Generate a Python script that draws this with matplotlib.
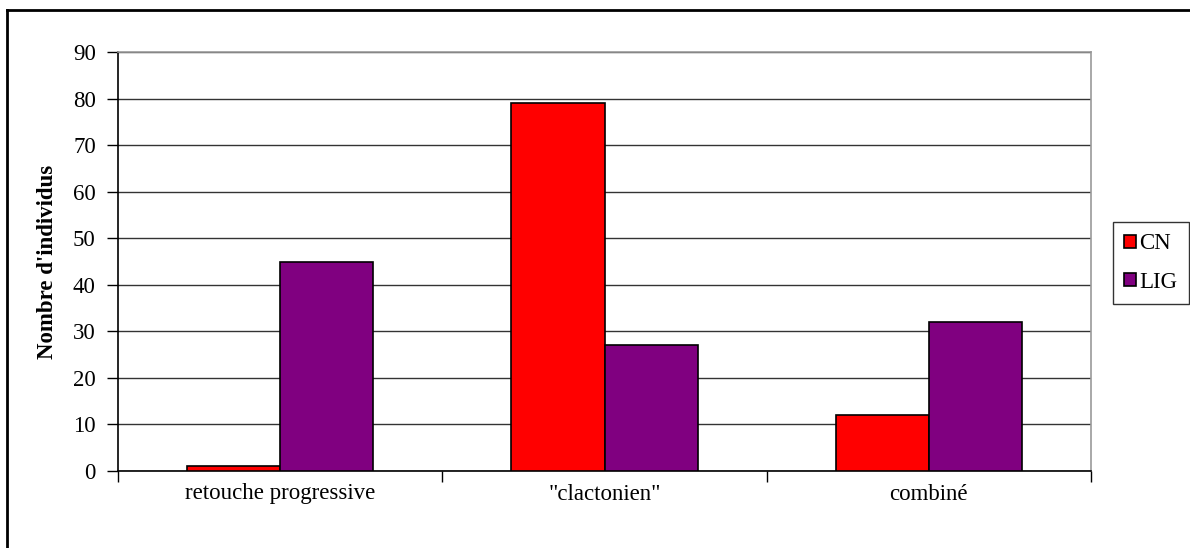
import matplotlib.pyplot as plt
import matplotlib.lines as mlines
import numpy as np

categories = ['retouche progressive', '"clactonien"', 'combiné']
cn_values = [1, 79, 12]
lig_values = [45, 27, 32]
series_names = ['CN', 'LIG']
y_ticks = [0, 10, 20, 30, 40, 50, 60, 70, 80, 90]

plt.rcParams['font.family'] = ['Liberation Serif', 'DejaVu Serif']
fs = 16.5

fig = plt.figure(figsize=(11.9, 5.48), dpi=100)
ax = fig.add_axes([118 / 1190, 77 / 548, 973 / 1190, 419 / 548])

x = np.arange(len(categories))
w = 0.287
ax.bar(x - w / 2, cn_values, w, color='#ff0000', edgecolor='black', linewidth=1.2,
       label=series_names[0], zorder=3)
ax.bar(x + w / 2, lig_values, w, color='#800080', edgecolor='black', linewidth=1.2,
       label=series_names[1], zorder=3)

ax.set_xlim(-0.5, len(categories) - 0.5)
ax.set_ylim(0, 90)
ax.set_yticks(y_ticks)
ax.yaxis.grid(True, color='#333333', linewidth=1, zorder=0)
ax.set_axisbelow(True)

# category ticks at boundaries, labels centred
ax.set_xticks(np.arange(-0.5, len(categories), 1.0))
ax.set_xticklabels([])
ax.set_xticks(x, minor=True)
ax.set_xticklabels(categories, minor=True, fontsize=fs)
ax.tick_params(axis='x', which='major', direction='out', length=8, width=1, color='black')
ax.tick_params(axis='x', which='minor', length=0, pad=9)
ax.tick_params(axis='y', direction='out', length=8, width=1, labelsize=fs, pad=8)

ax.spines['left'].set_color('black')
ax.spines['bottom'].set_color('black')
ax.spines['top'].set_color('#999999')
ax.spines['right'].set_color('#999999')
for s in ax.spines.values():
    s.set_linewidth(1.2)

ax.set_ylabel("Nombre d'individus", fontsize=fs, fontweight='bold')
ax.yaxis.set_label_coords(-0.062, 0.5)

leg = fig.legend(loc='upper left', bbox_to_anchor=(1113 / 1190, 1 - 222 / 548),
                 fontsize=fs, frameon=True, fancybox=False,
                 handlelength=0.5, handleheight=0.5, handletextpad=0.15,
                 labelspacing=0.75, borderpad=0.5, borderaxespad=0)
leg.get_frame().set_edgecolor('black')
leg.get_frame().set_linewidth(1)

# outer chart border (right and bottom fall outside the picture)
fig.add_artist(mlines.Line2D([7 / 1190, 7 / 1190], [0, 1 - 10 / 548], color='black', linewidth=2))
fig.add_artist(mlines.Line2D([7 / 1190, 1], [1 - 10 / 548, 1 - 10 / 548], color='black', linewidth=2))

fig.savefig('out.png', dpi=100)
